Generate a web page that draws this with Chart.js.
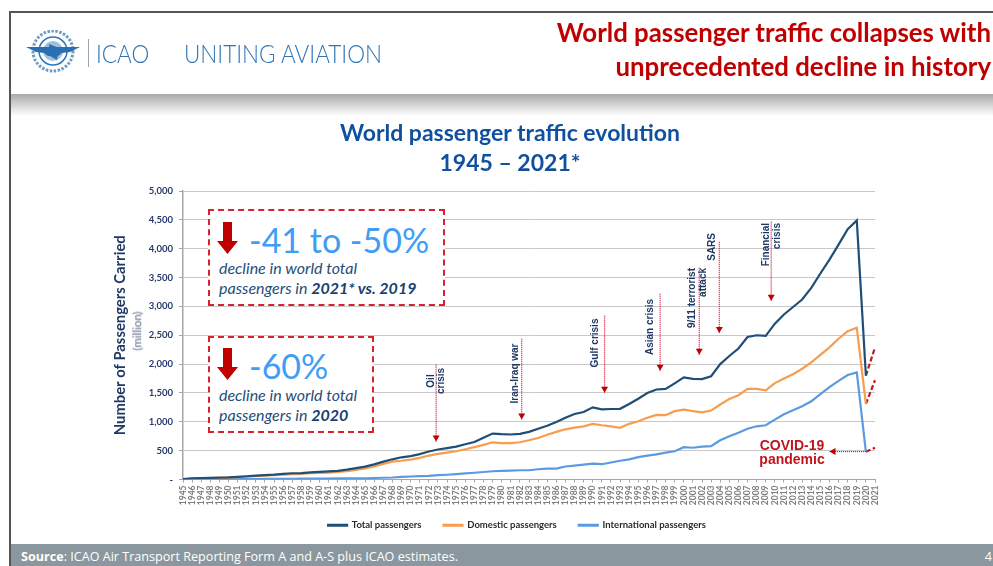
<!DOCTYPE html>
<html><head><meta charset="utf-8">
<style>
html,body{margin:0;padding:0;background:#fff;width:993px;height:566px;overflow:hidden}
#wrap{position:relative;width:993px;height:566px;font-family:Lato,sans-serif}
#wrap>*{position:absolute}
canvas{left:0;top:0}
.t{white-space:nowrap;line-height:1}
.box{border:2px dashed #d8232f;background:#fff;box-sizing:border-box}
.big{color:#3f9df5;font-size:34px;font-family:Lato}
.it{color:#1f4e79;font-style:italic;font-size:16px}
.it b{color:#173f6f}
.lg{font-size:26px;font-weight:300;color:#2e75b6;transform:scaleX(.865);transform-origin:left top}
</style></head><body>
<div id="wrap">
<div style="left:9px;top:11px;width:984px;height:2px;background:#555"></div>
<div style="left:9px;top:11px;width:2px;height:555px;background:#555"></div>
<div style="left:11px;top:94px;width:982px;height:22px;background:linear-gradient(#a9a9a9,#fff)"></div>
<canvas id="c" width="993" height="566"></canvas>
<svg style="left:24px;top:30px" width="60" height="48" viewBox="0 0 60 48">
<circle cx="29" cy="21" r="20" fill="none" stroke="#6f9cc6" stroke-width="3" stroke-dasharray="2.500 1.500"/>
<circle cx="29" cy="21" r="14" fill="#fff" stroke="#2e75b6" stroke-width="1.500"/>
<circle cx="29" cy="21" r="10" fill="#9cc2e2"/>
<path d="M25 14 L35 18 L33 30 L26 26Z" fill="#2a6fb0"/>
<path d="M2 17 L56 17 L46 22 L38 23 L34 26 L24 26 L20 23 L12 22Z" fill="#2a6fb0"/>
</svg>
<div style="left:88px;top:39px;width:1px;height:28px;background:#9aa5ad"></div>
<div class="t lg" style="left:96px;top:40px">ICAO</div>
<div class="t lg" style="left:184px;top:40px">UNITING AVIATION</div>
<div class="t" style="right:2px;top:20px;font-size:25.8px;font-weight:700;color:#c00000">World passenger traffic collapses with</div>
<div class="t" style="right:2px;top:54px;font-size:25.8px;font-weight:700;color:#c00000">unprecedented decline in history</div>
<div class="t" style="left:0;width:1020px;top:121px;text-align:center;font-size:23px;font-weight:700;color:#10509f">World passenger traffic evolution</div>
<div class="t" style="left:0;width:1020px;top:151px;text-align:center;font-size:23px;font-weight:700;color:#10509f">1945 – 2021*</div>
<div class="t" style="left:137px;top:331px;transform:translate(-50%,-50%) rotate(-90deg);font-size:11.5px;color:#5a6b8c">(million)</div>
<div class="box" style="left:208px;top:209px;width:237px;height:97px"></div>
<div class="box" style="left:208px;top:336px;width:166px;height:97px"></div>
<svg style="left:216px;top:222px" width="24" height="32"><path d="M7 0H16V19H22L11.500 32L1 19H7Z" fill="#c00000"/></svg>
<svg style="left:216px;top:348px" width="24" height="32"><path d="M7 0H16V19H22L11.500 32L1 19H7Z" fill="#c00000"/></svg>
<div class="t big" style="left:249px;top:223px">-41 to -50%</div>
<div class="t it" style="left:219px;top:260px">decline in world total</div>
<div class="t it" style="left:219px;top:280px">passengers in <b>2021* vs. 2019</b></div>
<div class="t big" style="left:249px;top:349px">-60%</div>
<div class="t it" style="left:219px;top:387px">decline in world total</div>
<div class="t it" style="left:219px;top:407px">passengers in <b>2020</b></div>
<div style="left:11px;top:544px;width:982px;height:22px;background:#8b979e"></div>
<div class="t" style="left:21px;top:551px;font-size:12.6px;color:#fff;font-family:'Open Sans'"><b>Source</b>: ICAO Air Transport Reporting Form A and A-S plus ICAO estimates.</div>
<div class="t" style="right:1px;top:551px;font-size:12.6px;color:#fff;font-family:'Open Sans'">4</div>
</div>
<script src="https://cdn.jsdelivr.net/npm/chart.js@4"></script>
<script>
const years=[1945,1946,1947,1948,1949,1950,1951,1952,1953,1954,1955,1956,1957,1958,1959,1960,1961,1962,1963,1964,1965,1966,1967,1968,1969,1970,1971,1972,1973,1974,1975,1976,1977,1978,1979,1980,1981,1982,1983,1984,1985,1986,1987,1988,1989,1990,1991,1992,1993,1994,1995,1996,1997,1998,1999,2000,2001,2002,2003,2004,2005,2006,2007,2008,2009,2010,2011,2012,2013,2014,2015,2016,2017,2018,2019,2020,2021].map(String);
const totalPassengers=[9,18,24,28,31,36,46,56,66,76,84,96,108,112,124,132,140,150,172,198,224,262,310,350,385,405,440,485,520,545,570,610,650,725,796,785,780,792,825,880,930,995,1070,1135,1170,1250,1215,1222,1225,1310,1400,1500,1560,1570,1665,1770,1745,1740,1790,2000,2140,2270,2470,2500,2490,2700,2860,2990,3120,3320,3570,3810,4070,4340,4490,1800,null];
const domesticPassengers=[7,14,20,24,27,32,40,48,58,66,74,86,94,98,108,116,120,130,146,168,192,226,270,310,325,345,375,415,445,465,490,525,560,600,645,630,630,645,680,720,775,825,870,900,920,965,940,920,895,965,1010,1070,1120,1115,1185,1210,1185,1165,1195,1300,1395,1460,1570,1570,1545,1670,1750,1825,1920,2030,2160,2290,2440,2570,2630,1310,null];
const internationalPassengers=[2,3,4,4,5,6,7,8,9,10,11,12,13,14,15,16,17,18,19,20,22,26,30,35,44,52,58,64,75,82,92,105,117,130,143,150,155,160,160,178,190,190,225,242,258,275,265,295,325,350,388,415,435,465,490,560,550,570,577,680,750,810,880,922,940,1038,1130,1200,1268,1355,1480,1600,1710,1810,1855,480,null];
const totalForecast=years.map(y=>y==='2020'?1800:y==='2021'?2290:null);
const domesticForecast=years.map(y=>y==='2020'?1310:y==='2021'?1720:null);
const internationalForecast=years.map(y=>y==='2020'?480:y==='2021'?550:null);
const yTicks=[0,500,1000,1500,2000,2500,3000,3500,4000,4500,5000];
const events=[
 {lines:['Oil','crisis'],x:1972.8,from:1990,to:660},
 {lines:['Iran-Iraq war'],x:1982.2,from:2440,to:1040},
 {lines:['Gulf crisis'],x:1991.3,from:2840,to:1505},
 {lines:['Asian crisis'],x:1997.4,from:3220,to:1885},
 {lines:['9/11 terrorist','attack'],x:2001.7,from:3670,to:2160},
 {lines:['SARS'],x:2003.9,from:4120,to:2540},
 {lines:['Financial','crisis'],x:2009.6,from:4470,to:3100}
];
const eventLabelPos=[[431,381,'center'],[515,373.500,'center'],[595.500,343,'center'],[650,327,'center'],[692.500,268,'right'],[712.500,233,'right'],[766.500,223,'right']];
const lh=10.5;
const notes={id:'notes',
 afterLayout(ch){ch.legend.left+=24;ch.legend.right+=24;ch.scales.x.bottom+=20;},
 afterDatasetsDraw(ch){
 const c=ch.ctx,xs=ch.scales.x,ys=ch.scales.y;
 const px=v=>xs.getPixelForValue(v-1945);
 c.save();
 const arrow=(x0,y0,x1,y1)=>{
  c.strokeStyle='#c8102e';c.lineWidth=1.2;c.setLineDash([1,1]);
  c.beginPath();c.moveTo(x0,y0);c.lineTo(x1,y1);c.stroke();c.setLineDash([]);
  c.fillStyle='#c00000';c.beginPath();
  if(x0===x1){c.moveTo(x1-3.5,y1-6);c.lineTo(x1+3.5,y1-6);c.lineTo(x1,y1);}
  else{c.moveTo(x1+6,y1-3.5);c.lineTo(x1+6,y1+3.5);c.lineTo(x1,y1);}
  c.fill();
 };
 events.forEach((e,i)=>{
  const x=px(e.x);arrow(x,ys.getPixelForValue(e.from),x,ys.getPixelForValue(e.to));
  const [lx,ly,al]=eventLabelPos[i];
  e.lines.forEach((t,j)=>{
   c.save();c.translate(lx+j*lh,ly);c.rotate(-Math.PI/2);
   c.font='bold 10px "Liberation Sans"';c.fillStyle='#1f3864';c.textAlign=al;c.textBaseline='middle';
   c.fillText(t,0,0);c.restore();
  });
 });
 arrow(px(2020),ys.getPixelForValue(484),px(2016),ys.getPixelForValue(484));
 c.font='bold 14px "Liberation Sans"';c.fillStyle='#c0141e';c.textAlign='center';c.textBaseline='middle';
 c.fillText('COVID-19',792,446);c.fillText('pandemic',792,460);
 c.restore();
}};
const line=(label,data,color)=>({label,data,borderColor:color,backgroundColor:color,borderWidth:2.2,pointRadius:0,tension:0,spanGaps:false});
const dash=(label,data)=>({label,data,borderColor:'#c8141e',backgroundColor:'#c8141e',borderWidth:2.2,borderDash:[5,2.5],pointRadius:0,tension:0});
const navy='#1f4e79',orange='#f79d4d',blue='#5b9ae0';
new Chart(document.getElementById('c'),{type:'line',
 data:{labels:years,datasets:[
  line('Total passengers',totalPassengers,navy),
  line('Domestic passengers',domesticPassengers,orange),
  line('International passengers',internationalPassengers,blue),
  dash('Total forecast',totalForecast),dash('Domestic forecast',domesticForecast),dash('International forecast',internationalForecast)]},
 options:{responsive:false,animation:false,devicePixelRatio:1,
  layout:{padding:{left:111,right:118,top:191,bottom:26}},
  plugins:{title:{display:false},tooltip:{enabled:false},
   legend:{position:'bottom',labels:{filter:i=>i.datasetIndex<3,boxWidth:19,boxHeight:1,padding:22,color:'#2b2b2b',font:{family:'Lato',size:9.5,weight:'bold'}}}},
  scales:{
   x:{offset:false,afterFit(a){a.height=19},grid:{drawOnChartArea:false,drawTicks:true,tickLength:3,tickColor:'#a6a6a6'},border:{color:'#a6a6a6',width:1},
    ticks:{color:'#7f7f7f',font:{family:'Lato',size:8.5,weight:'bold'},maxRotation:90,minRotation:90,autoSkip:false,padding:3}},
   y:{min:0,max:5000,afterBuildTicks(a){a.ticks=yTicks.map(v=>({value:v}))},afterFit(a){a.width=72},
    grid:{color:'#c8c8c8',borderDash:[2,2],tickColor:'#a6a6a6',tickLength:4,tickBorderDash:[]},border:{color:'#a6a6a6',width:1.5,dash:[]},
    ticks:{color:'#24386b',font:{family:'Lato',size:9.5,weight:'bold'},padding:6,callback:v=>v===0?'-':v.toLocaleString('en-US')},
    title:{display:true,text:'Number of Passengers Carried',color:'#1f3864',font:{family:'Lato',size:14.8,weight:'bold'},padding:0}}
  }},plugins:[notes]});
</script></body></html>
